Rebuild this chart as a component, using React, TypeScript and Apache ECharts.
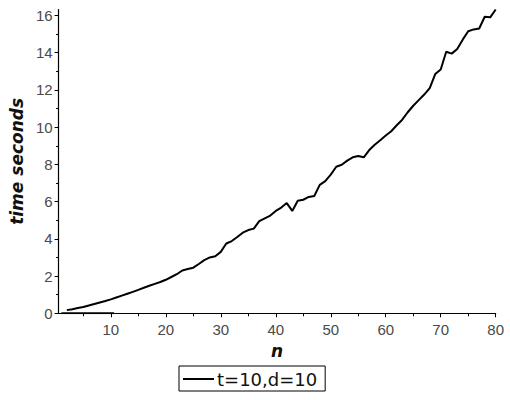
import React, { useEffect, useRef } from "react";
import * as echarts from "echarts";

const nValues = [
  2, 3, 4, 5, 6, 7, 8, 9, 10, 11, 12, 13, 14, 15, 16, 17, 18, 19, 20, 21,
  22, 23, 24, 25, 26, 27, 28, 29, 30, 31, 32, 33, 34, 35, 36, 37, 38, 39, 40, 41,
  42, 43, 44, 45, 46, 47, 48, 49, 50, 51, 52, 53, 54, 55, 56, 57, 58, 59, 60, 61,
  62, 63, 64, 65, 66, 67, 68, 69, 70, 71, 72, 73, 74, 75, 76, 77, 78, 79, 80,
];
const timeSeconds = [
  0.17, 0.22, 0.28, 0.34, 0.42, 0.5, 0.58, 0.66, 0.75, 0.85, 0.95, 1.05, 1.15, 1.26, 1.37, 1.48, 1.58, 1.68, 1.8, 1.95,
  2.1, 2.3, 2.38, 2.45, 2.65, 2.86, 3.0, 3.06, 3.3, 3.75, 3.88, 4.1, 4.33, 4.47, 4.55, 4.95, 5.1, 5.25, 5.5, 5.68,
  5.92, 5.5, 6.05, 6.1, 6.25, 6.3, 6.9, 7.1, 7.45, 7.87, 7.98, 8.2, 8.38, 8.45, 8.38, 8.77, 9.05, 9.3, 9.55, 9.78,
  10.1, 10.4, 10.8, 11.15, 11.45, 11.75, 12.1, 12.85, 13.1, 14.05, 13.95, 14.2, 14.7, 15.15, 15.25, 15.3, 15.93, 15.9, 16.32,
];
const zeroLineN = [1, 10.6];
const zeroLineV = [0, 0];

const xMajorTicks = [10, 20, 30, 40, 50, 60, 70, 80];
const xMinorTicks = [5, 15, 25, 35, 45, 55, 65, 75];
const yMajorTicks = [0, 2, 4, 6, 8, 10, 12, 14, 16];
const yMinorTicks = [1, 3, 5, 7, 9, 11, 13, 15];

const seriesName = "t=10,d=10";
const FONT = "DejaVu Sans";
const TICK_FONT = "Liberation Sans";

export default function App() {
  const ref = useRef<HTMLDivElement>(null);
  useEffect(() => {
    document.body.style.margin = "0";
    if (!ref.current) return;
    const chart = echarts.init(ref.current, null, { renderer: "svg" });
    const xMin = 0.5;
    const xMax = 80;
    const yMin = 0;
    const yMax = 16.32;
    const labelStyle = { fontFamily: TICK_FONT, fontSize: 15, color: "#4a4a4a" };
    chart.setOption({
      animation: false,
      backgroundColor: "#fff",
      grid: { left: 56, right: 14.3, top: 9.5, bottom: 86.7, containLabel: false },
      legend: {
        data: [seriesName],
        left: 179,
        top: 366,
        orient: "horizontal",
        borderColor: "#000",
        borderWidth: 1,
        borderRadius: 0,
        padding: [4, 8, 3, 4],
        itemWidth: 31,
        itemHeight: 2,
        icon: "rect",
        itemGap: 4,
        textStyle: { fontFamily: FONT, fontSize: 18, color: "#111", padding: [0, 0, 0, -2] },
      },
      xAxis: [
        {
          type: "value",
          min: xMin,
          max: xMax,
          position: "bottom",
          name: "n",
          nameLocation: "middle",
          nameGap: 29,
          nameTextStyle: { fontFamily: FONT, fontSize: 17, fontStyle: "italic", fontWeight: "bold", color: "#111" },
          axisLine: { show: true, onZero: false, lineStyle: { color: "#000", width: 1.2 } },
          axisTick: { show: true, length: 4, customValues: xMajorTicks, lineStyle: { color: "#000" } },
          axisLabel: { ...labelStyle, margin: 9, customValues: xMajorTicks },
          splitLine: { show: false },
        },
        {
          type: "value",
          min: xMin,
          max: xMax,
          position: "bottom",
          offset: 0,
          axisLine: { show: false },
          axisTick: { show: true, length: 3, customValues: xMinorTicks, lineStyle: { color: "#000" } },
          axisLabel: { show: false },
          splitLine: { show: false },
        },
      ],
      yAxis: [
        {
          type: "value",
          min: yMin,
          max: yMax,
          position: "left",
          name: "time seconds",
          nameLocation: "middle",
          nameRotate: 90,
          nameGap: 28,
          nameTextStyle: { fontFamily: FONT, fontSize: 17, fontStyle: "italic", fontWeight: "bold", color: "#111" },
          axisLine: { show: true, onZero: false, lineStyle: { color: "#000", width: 1.2 } },
          axisTick: { show: true, length: 4, customValues: yMajorTicks, lineStyle: { color: "#000" } },
          axisLabel: { ...labelStyle, margin: 6, customValues: yMajorTicks },
          splitLine: { show: false },
        },
        {
          type: "value",
          min: yMin,
          max: yMax,
          position: "left",
          offset: 0,
          axisLine: { show: false },
          axisTick: { show: true, length: 2.5, customValues: yMinorTicks, lineStyle: { color: "#000" } },
          axisLabel: { show: false },
          splitLine: { show: false },
        },
      ],
      series: [
        {
          name: seriesName,
          type: "line",
          xAxisIndex: 0,
          yAxisIndex: 0,
          data: nValues.map((n, i) => [n, timeSeconds[i]]),
          showSymbol: false,
          symbol: "none",
          lineStyle: { color: "#000", width: 2 },
          itemStyle: { color: "#000" },
        },
        {
          name: "zero",
          type: "line",
          xAxisIndex: 0,
          yAxisIndex: 0,
          data: zeroLineN.map((n, i) => [n, zeroLineV[i]]),
          showSymbol: false,
          symbol: "none",
          lineStyle: { color: "#000", width: 2 },
          itemStyle: { color: "#000" },
        },
      ],
    });
    return () => chart.dispose();
  }, []);
  return <div ref={ref} style={{ width: 510, height: 400 }} />;
}
